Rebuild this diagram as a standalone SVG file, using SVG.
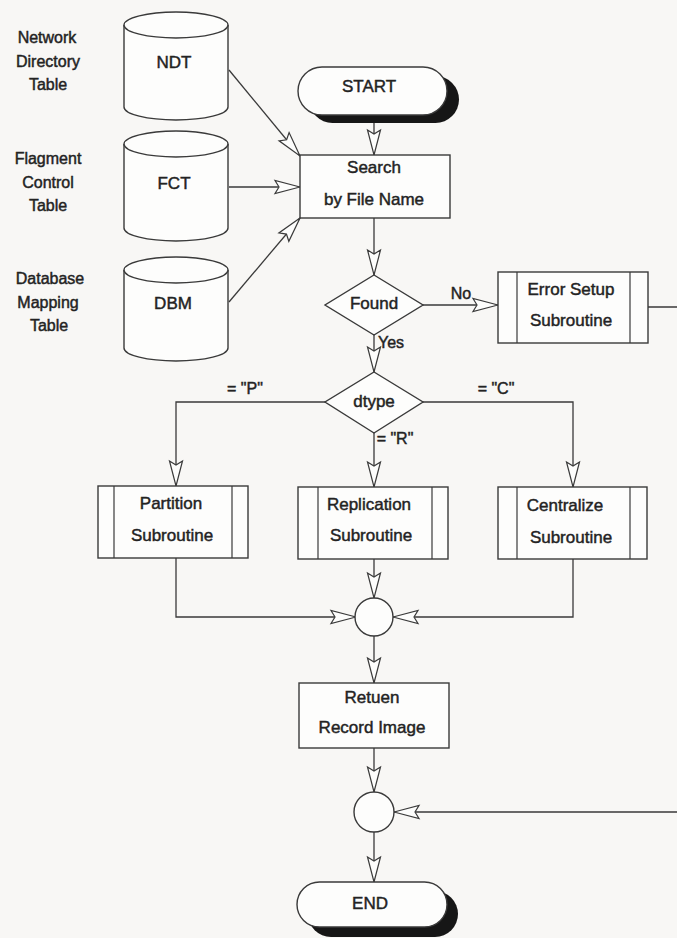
<svg xmlns="http://www.w3.org/2000/svg" width="677" height="938" viewBox="0 0 677 938">
  <style>
    .bg { fill: #f8f7f5; }
    .shape { fill: #fdfdfc; stroke: #3a3a3a; stroke-width: 1.4; }
    .inner { fill: none; stroke: #3a3a3a; stroke-width: 1.2; }
    .shadow { fill: #161616; }
    .edge { fill: none; stroke: #3a3a3a; stroke-width: 1.3; }
    .t { font-family: "Liberation Sans", Arial, sans-serif; font-size: 17px; fill: #232323; stroke: #232323; stroke-width: 0.45; text-anchor: middle; }
    .lbl { font-family: "Liberation Sans", Arial, sans-serif; font-size: 16px; fill: #232323; stroke: #232323; stroke-width: 0.45; text-anchor: middle; }
  </style>
  <defs>
    <!-- open, slightly notched flowchart arrowhead -->
    <marker id="arr" viewBox="-27 -8 28 16" refX="0" refY="0" markerWidth="28" markerHeight="16" markerUnits="userSpaceOnUse" orient="auto">
      <path d="M0,0 L-25,-6.5 L-21,0 L-25,6.5 Z" fill="#fdfdfc" stroke="#3a3a3a" stroke-width="1.2" stroke-linejoin="miter"/>
    </marker>
  </defs>

  <rect class="bg" x="0" y="0" width="677" height="938"/>

  <!-- side captions for the data stores -->
  <g id="captions">
    <text class="lbl" x="47" y="43">Network</text>
    <text class="lbl" x="48" y="67">Directory</text>
    <text class="lbl" x="48" y="90">Table</text>
    <text class="lbl" x="48" y="164">Flagment</text>
    <text class="lbl" x="48" y="188">Control</text>
    <text class="lbl" x="48" y="211">Table</text>
    <text class="lbl" x="50" y="284">Database</text>
    <text class="lbl" x="48" y="308">Mapping</text>
    <text class="lbl" x="49" y="331">Table</text>
  </g>

  <!-- connectors -->
  <g id="connectors">
    <path class="edge" d="M229,70 L300,156" marker-end="url(#arr)"/>
    <path class="edge" d="M229,187 L300,187" marker-end="url(#arr)"/>
    <path class="edge" d="M229,302 L300,218" marker-end="url(#arr)"/>
    <path class="edge" d="M374,123 L374,155" marker-end="url(#arr)"/>
    <path class="edge" d="M374,218 L374,275" marker-end="url(#arr)"/>
    <path class="edge" d="M423,305 L498,305" marker-end="url(#arr)"/>
    <path class="edge" d="M374,335 L374,372" marker-end="url(#arr)"/>
    <path class="edge" d="M325,402 L176,402 L176,486" marker-end="url(#arr)"/>
    <path class="edge" d="M374,433 L374,487" marker-end="url(#arr)"/>
    <path class="edge" d="M423,402 L573,402 L573,487" marker-end="url(#arr)"/>
    <path class="edge" d="M176,558 L176,617 L356,617" marker-end="url(#arr)"/>
    <path class="edge" d="M374,559 L374,598" marker-end="url(#arr)"/>
    <path class="edge" d="M573,559 L573,617 L393,617" marker-end="url(#arr)"/>
    <path class="edge" d="M374,636 L374,683" marker-end="url(#arr)"/>
    <path class="edge" d="M374,748 L374,792" marker-end="url(#arr)"/>
    <path class="edge" d="M648,307 L686,307 L686,812 L394,812" marker-end="url(#arr)"/>
    <path class="edge" d="M374,832 L374,882" marker-end="url(#arr)"/>
    <text class="lbl" x="461" y="299">No</text>
    <text class="lbl" x="391" y="348">Yes</text>
    <text class="lbl" x="245" y="394">= "P"</text>
    <text class="lbl" x="496" y="394">= "C"</text>
    <text class="lbl" x="395" y="444">= "R"</text>
  </g>

  <!-- data stores -->
  <g id="ndt">
    <path class="shape" d="M124,25 L124,107 A52,13 0 0 0 228,107 L228,25"/>
    <ellipse class="shape" cx="176" cy="25" rx="52" ry="13"/>
    <text class="t" x="174" y="68">NDT</text>
  </g>
  <g id="fct">
    <path class="shape" d="M124,144 L124,228 A52,13 0 0 0 228,228 L228,144"/>
    <ellipse class="shape" cx="176" cy="144" rx="52" ry="13"/>
    <text class="t" x="174" y="189">FCT</text>
  </g>
  <g id="dbm">
    <path class="shape" d="M124,270 L124,348 A52,13 0 0 0 228,348 L228,270"/>
    <ellipse class="shape" cx="176" cy="270" rx="52" ry="13"/>
    <text class="t" x="173" y="309">DBM</text>
  </g>

  <!-- terminals -->
  <g id="start">
    <rect class="shadow" x="309" y="76" width="150" height="47" rx="23.5"/>
    <rect class="shape" x="298" y="67" width="149" height="48" rx="24"/>
    <text class="t" x="369" y="92">START</text>
  </g>
  <g id="end">
    <rect class="shadow" x="308" y="891" width="150" height="46" rx="23"/>
    <rect class="shape" x="297" y="882" width="150" height="45" rx="22.5"/>
    <text class="t" x="370" y="909">END</text>
  </g>

  <!-- process steps -->
  <g id="search">
    <rect class="shape" x="300" y="155" width="150" height="63"/>
    <text class="t" x="374" y="173">Search</text>
    <text class="t" x="374" y="205">by File Name</text>
  </g>
  <g id="found">
    <path class="shape" d="M374,275 L423,305 L374,335 L325,305 Z"/>
    <text class="t" x="374" y="309">Found</text>
  </g>
  <g id="error-setup">
    <rect class="shape" x="498" y="272" width="150" height="71"/>
    <line class="inner" x1="517" y1="272" x2="517" y2="343"/>
    <line class="inner" x1="630" y1="272" x2="630" y2="343"/>
    <text class="t" x="571" y="295">Error Setup</text>
    <text class="t" x="571" y="326">Subroutine</text>
  </g>
  <g id="dtype">
    <path class="shape" d="M374,372 L423,402 L374,433 L325,402 Z"/>
    <text class="t" x="374" y="407">dtype</text>
  </g>
  <g id="partition">
    <rect class="shape" x="98" y="486" width="150" height="72"/>
    <line class="inner" x1="114" y1="486" x2="114" y2="558"/>
    <line class="inner" x1="232" y1="486" x2="232" y2="558"/>
    <text class="t" x="171" y="509">Partition</text>
    <text class="t" x="172" y="541">Subroutine</text>
  </g>
  <g id="replication">
    <rect class="shape" x="298" y="487" width="150" height="72"/>
    <line class="inner" x1="318" y1="487" x2="318" y2="559"/>
    <line class="inner" x1="432" y1="487" x2="432" y2="559"/>
    <text class="t" x="369" y="510">Replication</text>
    <text class="t" x="371" y="541">Subroutine</text>
  </g>
  <g id="centralize">
    <rect class="shape" x="498" y="487" width="149" height="72"/>
    <line class="inner" x1="517" y1="487" x2="517" y2="559"/>
    <line class="inner" x1="630" y1="487" x2="630" y2="559"/>
    <text class="t" x="565" y="511">Centralize</text>
    <text class="t" x="571" y="543">Subroutine</text>
  </g>
  <g id="merge">
    <circle class="shape" cx="374" cy="617" r="19"/>
  </g>
  <g id="return-record">
    <rect class="shape" x="299" y="683" width="150" height="65"/>
    <text class="t" x="372" y="703">Retuen</text>
    <text class="t" x="372" y="733">Record Image</text>
  </g>
  <g id="join">
    <circle class="shape" cx="374" cy="812" r="20"/>
  </g>
</svg>
